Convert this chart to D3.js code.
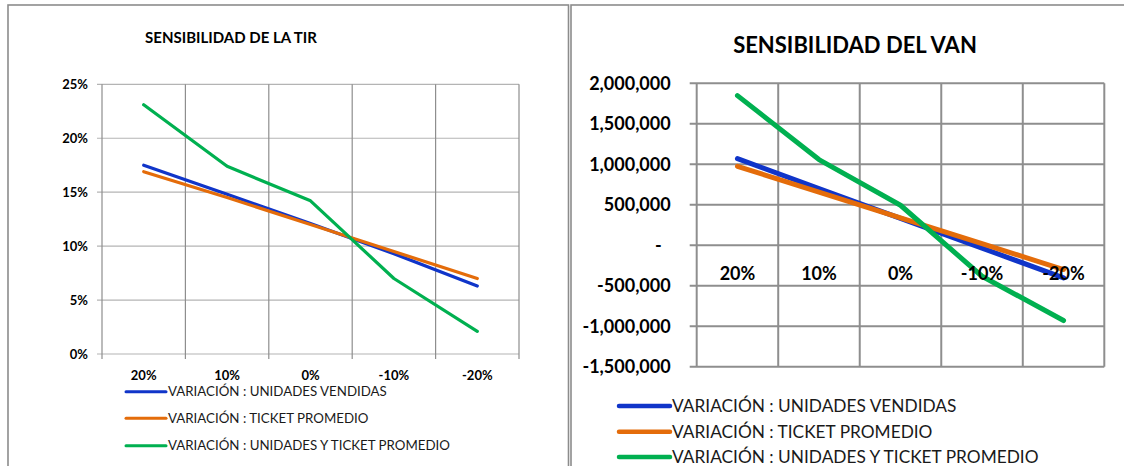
<!DOCTYPE html>
<html>
<head>
<meta charset="utf-8">
<script src="https://cdn.jsdelivr.net/npm/d3@7"></script>
<style>
  body { margin: 0; background: #fff; }
  svg { display: block; font-family: Lato, "Open Sans", sans-serif; }
</style>
</head>
<body>
<svg id="chart" width="1124" height="466"></svg>
<script>
// categories along the x axis (variation applied)
var categories = ["20%", "10%", "0%", "-10%", "-20%"];

var seriesNames = ["VARIACIÓN : UNIDADES VENDIDAS", "VARIACIÓN : TICKET PROMEDIO", "VARIACIÓN : UNIDADES Y TICKET PROMEDIO"];
var seriesColors = ["#1035c9", "#e46c0a", "#00b050"];

// TIR values (fraction)
var tirUnidades = [0.175, 0.148, 0.121, 0.093, 0.063];
var tirTicket   = [0.169, 0.145, 0.120, 0.095, 0.070];
var tirAmbos    = [0.231, 0.174, 0.142, 0.070, 0.021];
var tirTicks    = [0, 0.05, 0.10, 0.15, 0.20, 0.25];

// VAN values
var vanUnidades = [1070000, 700000, 333000, -35000, -403000];
var vanTicket   = [975000, 656000, 337000, 19000, -300000];
var vanAmbos    = [1848000, 1058000, 494000, -383000, -930000];
var vanTicks    = [-1500000, -1000000, -500000, 0, 500000, 1000000, 1500000, 2000000];

var svg = d3.select("#chart");

// frames of the two charts
svg.append("rect").attr("x", 8).attr("y", 5).attr("width", 560.5).attr("height", 480)
    .attr("fill", "none").attr("stroke", "#8c8c8c").attr("stroke-width", 1.6);
svg.append("rect").attr("x", 571).attr("y", 5).attr("width", 570).attr("height", 480)
    .attr("fill", "none").attr("stroke", "#8c8c8c").attr("stroke-width", 1.6);

function drawChart(opt) {
    var g = svg.append("g");

    var x = d3.scaleBand().domain(categories).range([opt.left, opt.right]);
    var y = d3.scaleLinear().domain(opt.domain).range([opt.bottom, opt.top]);
    var bounds = categories.map(function(c) { return x(c); }).concat([opt.right]);

    // horizontal gridlines
    g.selectAll("line.hgrid").data(opt.ticks).enter().append("line")
        .attr("class", "hgrid")
        .attr("x1", opt.left - opt.tick).attr("x2", opt.right)
        .attr("y1", function(d) { return y(d); }).attr("y2", function(d) { return y(d); })
        .attr("stroke", opt.hColor).attr("stroke-width", opt.gridW);

    // vertical gridlines
    g.selectAll("line.vgrid").data(bounds).enter().append("line")
        .attr("class", "vgrid")
        .attr("x1", function(d) { return d; }).attr("x2", function(d) { return d; })
        .attr("y1", opt.top).attr("y2", y(opt.axisAt) + opt.xTick)
        .attr("stroke", opt.vColor).attr("stroke-width", opt.gridW);

    // y tick labels
    g.selectAll("text.ylab").data(opt.ticks).enter().append("text")
        .attr("class", "ylab")
        .attr("x", function(d) { return opt.left - opt.labPad - (d === 0 ? opt.zeroShift : 0); })
        .attr("y", function(d) { return y(d); })
        .attr("dy", "0.35em")
        .attr("text-anchor", "end")
        .attr("font-weight", "bold")
        .attr("font-size", opt.labSize)
        .attr("fill", "#000")
        .text(opt.fmt);

    // lines
    var line = d3.line()
        .x(function(d, i) { return x(categories[i]) + x.bandwidth() / 2; })
        .y(function(d) { return y(d); });
    opt.series.forEach(function(s, i) {
        g.append("path").datum(s)
            .attr("d", line)
            .attr("fill", "none")
            .attr("stroke", seriesColors[i])
            .attr("stroke-width", opt.lineW)
            .attr("stroke-linecap", "round")
            .attr("stroke-linejoin", "round");
    });

    // x labels
    g.selectAll("text.xlab").data(categories).enter().append("text")
        .attr("class", "xlab")
        .attr("x", function(d) { return x(d) + x.bandwidth() / 2; })
        .attr("y", opt.xLabY)
        .attr("text-anchor", "middle")
        .attr("font-weight", "bold")
        .attr("font-size", opt.labSize)
        .attr("fill", "#000")
        .text(function(d) { return d; });

    // title
    g.append("text")
        .attr("x", opt.titleX).attr("y", opt.titleY)
        .attr("text-anchor", "middle")
        .attr("font-weight", "bold")
        .attr("font-size", opt.titleSize)
        .attr("fill", "#000")
        .text(opt.title);

    // legend
    seriesNames.forEach(function(name, i) {
        var ly = opt.legY[i];
        g.append("line")
            .attr("x1", opt.legX1).attr("x2", opt.legX2)
            .attr("y1", ly).attr("y2", ly)
            .attr("stroke", seriesColors[i])
            .attr("stroke-width", opt.legW)
            .attr("stroke-linecap", "round");
        g.append("text")
            .attr("x", opt.legX2 + 2).attr("y", ly)
            .attr("dy", "0.36em")
            .attr("font-size", opt.legSize)
            .attr("fill", "#1a1a1a")
            .text(name);
    });
}

drawChart({
    left: 102, right: 519, top: 84.3, bottom: 354,
    domain: [0, 0.25], ticks: tirTicks, axisAt: 0,
    fmt: d3.format(".0%"),
    series: [tirUnidades, tirTicket, tirAmbos],
    hColor: "#b4b4b4", vColor: "#8e8e8e", gridW: 1.2,
    tick: 5, xTick: 5, labPad: 14, zeroShift: 0, labSize: 13,
    lineW: 3.2, xLabY: 380,
    title: "SENSIBILIDAD DE LA TIR", titleX: 231, titleY: 43, titleSize: 15,
    legX1: 126, legX2: 166, legY: [391.7, 418.3, 445.7], legW: 3, legSize: 13.3
});

drawChart({
    left: 696.7, right: 1104.3, top: 83.3, bottom: 366.7,
    domain: [-1500000, 2000000], ticks: vanTicks, axisAt: -1500000,
    fmt: function(d) { return d === 0 ? "-" : d3.format(",")(d).replace("\u2212", "-"); },
    series: [vanUnidades, vanTicket, vanAmbos],
    hColor: "#8e8e8e", vColor: "#8e8e8e", gridW: 2,
    tick: 7, xTick: 0, labPad: 26, zeroShift: 9, labSize: 18,
    lineW: 5, xLabY: 280,
    title: "SENSIBILIDAD DEL VAN", titleX: 855, titleY: 53, titleSize: 22,
    legX1: 619, legX2: 670, legY: [406, 431.7, 457], legW: 4.5, legSize: 17.3
});
</script>
</body>
</html>
